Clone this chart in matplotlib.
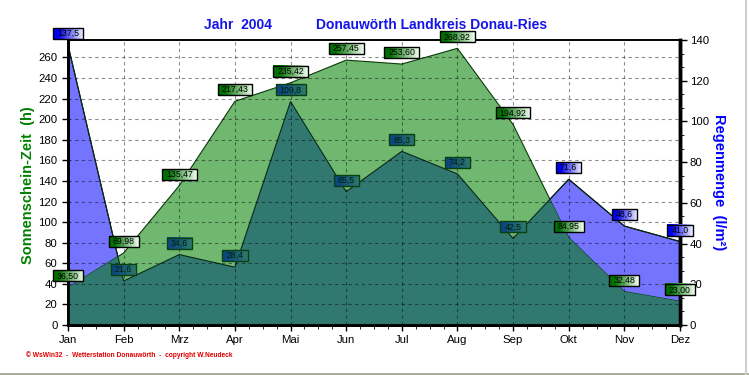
import numpy as np
import matplotlib
matplotlib.use("Agg")
import matplotlib.pyplot as plt
from matplotlib.patches import Polygon, Rectangle
from matplotlib.lines import Line2D
from matplotlib.colors import LinearSegmentedColormap
from matplotlib.ticker import MultipleLocator, AutoMinorLocator

plt.rcParams['font.family'] = ['Liberation Sans', 'DejaVu Sans']

# data
months = ["Jan", "Feb", "Mrz", "Apr", "Mai", "Jun", "Jul", "Aug", "Sep", "Okt", "Nov", "Dez"]
sunshine = [36.50, 69.98, 135.47, 217.43, 235.42, 257.45, 253.60, 268.92, 194.92, 84.95, 32.48, 23.00]
rain = [137.5, 21.6, 34.6, 28.4, 109.8, 65.5, 85.3, 74.2, 42.5, 71.6, 48.6, 41.0]

sun_max = 277
rain_max = 140

C_SUN = '#70B870'
C_RAIN = '#7474FF'
C_BOTH = '#307870'

fig = plt.figure(figsize=(7.49, 3.75), dpi=100)
ax = fig.add_axes([68 / 749, 50 / 375, 612 / 749, 285 / 375])
ax2 = ax.twinx()
ax.set_zorder(ax2.get_zorder() + 1)
ax.patch.set_visible(False)

x = np.arange(len(months))
ax.set_xlim(0, len(months) - 1)
ax.set_ylim(0, sun_max)
ax2.set_ylim(0, rain_max)

sun_verts = list(zip(x, sunshine)) + [(x[-1], 0), (x[0], 0)]
rain_verts = list(zip(x, rain)) + [(x[-1], 0), (x[0], 0)]

# rain area on the right scale
ax2.add_patch(Polygon(rain_verts, closed=True, facecolor=C_RAIN, edgecolor='black', lw=0.8))

# sunshine area on the left scale
ax.add_patch(Polygon(sun_verts, closed=True, facecolor=C_SUN, edgecolor='#0a3a0a', lw=0.8, zorder=1))

# overlap of both areas
overlap = Polygon(sun_verts, closed=True, facecolor=C_BOTH, edgecolor='none', zorder=1.2)
ax.add_patch(overlap)
clip = Polygon(rain_verts, closed=True, transform=ax2.transData)
overlap.set_clip_path(clip)
ax.add_patch(Polygon(rain_verts, closed=True, fill=False, edgecolor='#0a2a1a', lw=0.8,
                     transform=ax2.transData, zorder=1.3))

# axes styling
ax.set_axisbelow(False)
ax.set_xticks(x)
ax.set_xticklabels(months)
ax.xaxis.set_minor_locator(AutoMinorLocator(4))
ax.yaxis.set_major_locator(MultipleLocator(20))
ax2.yaxis.set_major_locator(MultipleLocator(20))
ax2.yaxis.set_minor_locator(AutoMinorLocator(3))
ax.grid(True, which='major', color='black', alpha=0.45, linestyle=(0, (3, 3)), lw=0.8)

ax.tick_params(axis='both', which='major', labelsize=8.2, length=4, direction='out', width=1)
ax.tick_params(axis='x', which='minor', length=3, direction='out')
ax2.tick_params(axis='y', which='major', labelsize=8.2, length=5, direction='out', width=1, pad=2)
ax2.tick_params(axis='y', which='minor', length=3, direction='out')

for a in (ax, ax2):
    a.spines['top'].set_linewidth(1.2)
    a.spines['left'].set_linewidth(2)
    a.spines['bottom'].set_linewidth(2)
    a.spines['right'].set_linewidth(2.5)

ax.set_ylabel("Sonnenschein-Zeit  (h)", color='#008000', fontsize=10.5, fontweight='bold')
ax.yaxis.set_label_coords(-0.054, 0.49)
ax2.set_ylabel("Regenmenge  (l/m²)", color='#0000FF', fontsize=10.5, fontweight='bold', rotation=270,
               va='center')
ax2.yaxis.set_label_coords(1.064, 0.5)

fig.text(238 / 749, 1 - 25 / 375, "Jahr  2004", ha='center', va='center', color='#1414E6',
         fontsize=10, fontweight='bold')
fig.text(432 / 749, 1 - 25 / 375, "Donauwörth Landkreis Donau-Ries", ha='center', va='center',
         color='#1414E6', fontsize=10, fontweight='bold')
fig.text(26 / 749, 1 - 355 / 375, "© WsWin32  -  Wetterstation Donauwörth  -  copyright W.Neudeck",
         ha='left', va='center', color='#E00000', fontsize=4.8, fontweight='bold')

# window frame at right and bottom
fig.add_artist(Line2D([0, 1], [1.5 / 375, 1.5 / 375], transform=fig.transFigure, color='#A8A898', lw=2))
fig.add_artist(Line2D([746 / 749, 746 / 749], [0, 1], transform=fig.transFigure, color='#D0D0C8', lw=1.5))


def value_box(px, py, text, c0, c1, edge, tcolor):
    # px, py: data point in display pixels; box sits just above it
    w = 4.8 * len(text) + 6
    h = 11
    inv = ax.transData.inverted()
    (dx0, dy0), (dx1, dy1) = inv.transform([(px - w / 2, py + 6), (px + w / 2, py + 6 + h)])
    grad = np.linspace(0, 1, 64).reshape(1, -1)
    cmap = LinearSegmentedColormap.from_list('box', [(0, c0), (0.18, c0), (1, c1)])
    im = ax.imshow(grad, extent=[dx0, dx1, dy0, dy1], cmap=cmap, aspect='auto',
                   interpolation='bilinear', zorder=5)
    im.set_clip_on(False)
    ax.add_patch(Rectangle((dx0, dy0), dx1 - dx0, dy1 - dy0, fill=False, edgecolor=edge,
                           lw=1, zorder=6, clip_on=False))
    ax.text((dx0 + dx1) / 2 + 1.0 / 55.6 * 0, (dy0 + dy1) / 2, text, ha='center', va='center',
            fontsize=6.3, color=tcolor, zorder=7, clip_on=False)


for i in range(len(months)):
    sx, sy = ax.transData.transform((x[i], sunshine[i]))
    rx, ry = ax2.transData.transform((x[i], rain[i]))
    if ry < sy:
        value_box(rx, ry, f"{rain[i]:.1f}".replace('.', ','), '#0C4880', '#2E7A6C', '#0A4010', '#002000')
    else:
        value_box(rx, ry, f"{rain[i]:.1f}".replace('.', ','), '#0000F0', '#F4F4FF', 'black', 'black')
    value_box(sx, sy, f"{sunshine[i]:.2f}".replace('.', ','), '#007000', '#F0FFF0', 'black', 'black')

ax.set_xlim(0, len(months) - 1)
ax.set_ylim(0, sun_max)

fig.savefig("out.png", dpi=100)
